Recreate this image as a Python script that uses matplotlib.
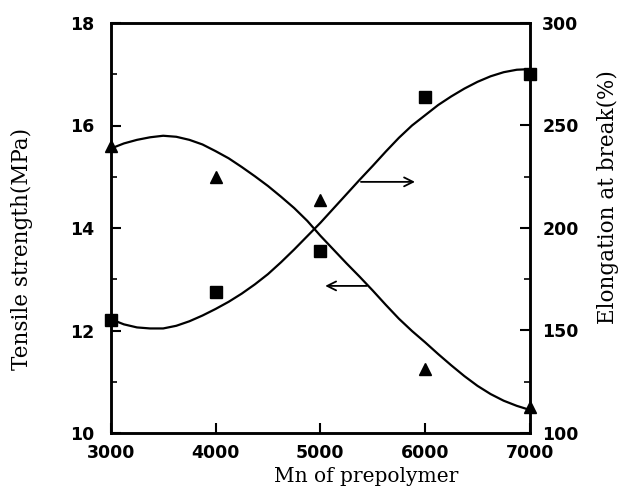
import matplotlib
matplotlib.use("Agg")
import matplotlib.pyplot as plt
from matplotlib.ticker import MultipleLocator

# Measured points
mn = [3000, 4000, 5000, 6000, 7000]
tensile = [15.6, 15.0, 14.55, 11.25, 10.5]          # MPa, triangles
elongation = [155, 169, 189, 264, 275]              # %, squares

# Fitted trend curves
curve_x = [3000, 3125, 3250, 3375, 3500, 3625, 3750, 3875, 4000, 4125, 4250,
           4375, 4500, 4625, 4750, 4875, 5000, 5125, 5250, 5375, 5500, 5625,
           5750, 5875, 6000, 6125, 6250, 6375, 6500, 6625, 6750, 6875, 7000]
tensile_fit = [15.55, 15.65, 15.72, 15.77, 15.80, 15.78, 15.72, 15.63, 15.50,
               15.36, 15.19, 15.01, 14.82, 14.61, 14.39, 14.14, 13.85, 13.58,
               13.31, 13.05, 12.78, 12.50, 12.23, 11.99, 11.77, 11.54, 11.32,
               11.11, 10.92, 10.76, 10.63, 10.53, 10.45]
elong_fit = [155.5, 153.0, 151.5, 151.0, 151.0, 152.3, 154.5, 157.3, 160.5,
             164.0, 168.0, 172.5, 177.5, 183.3, 189.5, 196.0, 202.5, 209.5,
             216.5, 223.5, 230.3, 237.3, 244.0, 250.0, 255.0, 260.0, 264.2,
             268.0, 271.3, 274.0, 276.0, 277.2, 277.5]

fig = plt.figure(figsize=(6.19, 5.0), dpi=100)
ax = fig.add_axes([0.179, 0.134, 0.677, 0.820])
ax2 = ax.twinx()

ax.plot(curve_x, tensile_fit, color="black", lw=1.6, zorder=3,
        solid_joinstyle="round")
ax.plot(mn, tensile, linestyle="none", marker="^", color="black",
        markersize=9, zorder=4, clip_on=False)
ax2.plot(curve_x, elong_fit, color="black", lw=1.6, zorder=3,
         solid_joinstyle="round")
ax2.plot(mn, elongation, linestyle="none", marker="s", color="black",
         markersize=8, zorder=4, clip_on=False)

ax.set_xlim(3000, 7000)
ax.set_ylim(10, 18)
ax2.set_ylim(100, 300)

ax.xaxis.set_major_locator(MultipleLocator(1000))
ax.yaxis.set_major_locator(MultipleLocator(2))
ax.yaxis.set_minor_locator(MultipleLocator(1))
ax2.yaxis.set_major_locator(MultipleLocator(50))
ax2.yaxis.set_minor_locator(MultipleLocator(25))

tick_font = dict(family="DejaVu Sans", weight="bold", size=12.5)
ax.tick_params(axis="x", which="major", direction="in", length=7, width=1.5,
               pad=8, top=False)
ax.tick_params(axis="y", which="major", direction="in", length=7, width=1.5, pad=12)
ax.tick_params(axis="y", which="minor", direction="in", length=4, width=1.2)
ax2.tick_params(axis="y", which="major", direction="in", length=7, width=1.5, pad=9)
ax2.tick_params(axis="y", which="minor", direction="in", length=4, width=1.2)
for lab in ax.get_xticklabels() + ax.get_yticklabels() + ax2.get_yticklabels():
    lab.set_fontfamily(tick_font["family"])
    lab.set_fontweight(tick_font["weight"])
    lab.set_fontsize(tick_font["size"])

for a in (ax, ax2):
    for s in a.spines.values():
        s.set_linewidth(1.8)

ax.set_xlabel("Mn of prepolymer", family="DejaVu Serif", size=14.5)
ax.set_ylabel("Tensile strength(MPa)", family="DejaVu Serif", size=15.5)
ax2.set_ylabel("Elongation at break(%)", family="DejaVu Serif", size=15.5)
ax.xaxis.set_label_coords(0.61, -0.083)
ax.yaxis.set_label_coords(-0.186, 0.449)
ax2.yaxis.set_label_coords(1.160, 0.576)

# Arrows pointing each curve to its axis
arrow_style = dict(arrowstyle="->", color="black", lw=1.3, mutation_scale=16)
ax2.annotate("", xy=(5930, 222.5), xytext=(5361, 222.5), arrowprops=arrow_style)
ax.annotate("", xy=(5020, 12.87), xytext=(5470, 12.87), arrowprops=arrow_style)

fig.savefig("out.png", dpi=100)
